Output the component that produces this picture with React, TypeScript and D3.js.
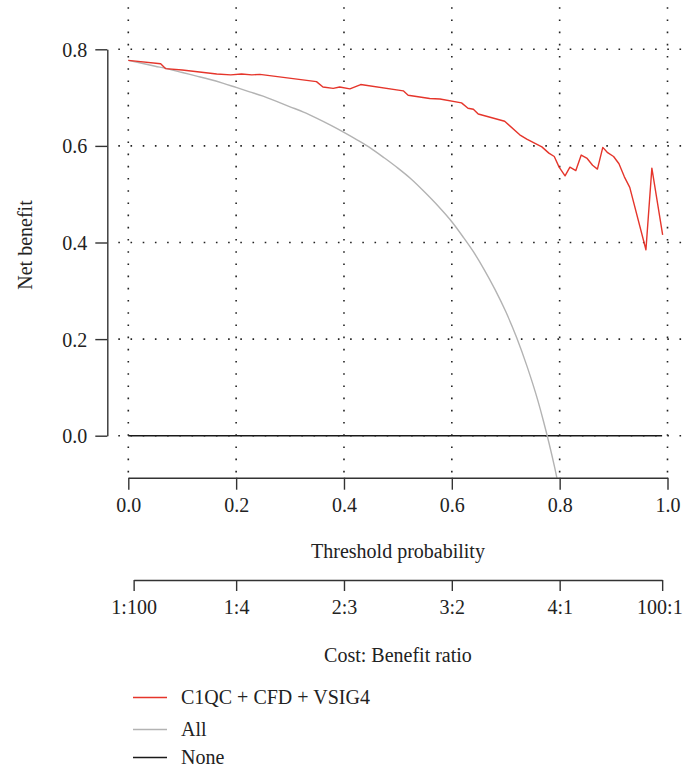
import React, { useEffect, useRef } from "react";
import * as d3 from "d3";

// Threshold probabilities and net benefit
const modelThreshold = [0, 0.06, 0.069, 0.1, 0.164, 0.19, 0.21, 0.229, 0.244, 0.349, 0.361, 0.38, 0.392, 0.411, 0.431, 0.51, 0.519, 0.559, 0.578, 0.618, 0.63, 0.64, 0.649, 0.698, 0.726, 0.739, 0.767, 0.78, 0.79, 0.799, 0.81, 0.819, 0.83, 0.84, 0.851, 0.861, 0.87, 0.88, 0.889, 0.9, 0.91, 0.92, 0.93, 0.96, 0.971, 0.991];
const modelBenefit = [0.777, 0.77, 0.76, 0.757, 0.749, 0.747, 0.749, 0.747, 0.748, 0.733, 0.722, 0.719, 0.722, 0.718, 0.727, 0.714, 0.705, 0.698, 0.697, 0.689, 0.678, 0.676, 0.666, 0.651, 0.623, 0.614, 0.598, 0.585, 0.578, 0.556, 0.538, 0.556, 0.549, 0.581, 0.574, 0.56, 0.552, 0.597, 0.586, 0.578, 0.563, 0.536, 0.514, 0.385, 0.554, 0.416];

const allThreshold = [0, 0.025, 0.05, 0.075, 0.1, 0.125, 0.15, 0.175, 0.2, 0.225, 0.25, 0.275, 0.3, 0.325, 0.35, 0.375, 0.4, 0.425, 0.45, 0.475, 0.5, 0.525, 0.55, 0.575, 0.6, 0.62, 0.64, 0.66, 0.68, 0.7, 0.72, 0.74, 0.76, 0.77, 0.78, 0.79, 0.8];
const allBenefit = [0.777, 0.771, 0.765, 0.759, 0.752, 0.745, 0.738, 0.73, 0.721, 0.712, 0.703, 0.692, 0.681, 0.67, 0.657, 0.643, 0.628, 0.612, 0.595, 0.575, 0.554, 0.531, 0.504, 0.475, 0.443, 0.413, 0.381, 0.344, 0.303, 0.257, 0.204, 0.142, 0.071, 0.03, -0.014, -0.062, -0.115];

const noneThreshold = [0, 0.99];
const noneBenefit = [0, 0];

const xTicks = [0, 0.2, 0.4, 0.6, 0.8, 1.0];
const yTicks = [0, 0.2, 0.4, 0.6, 0.8];
const ratioTicks = [1 / 101, 0.2, 0.4, 0.6, 0.8, 100 / 101];
const ratioLabels = ["1:100", "1:4", "2:3", "3:2", "4:1", "100:1"];

const legendNames = ["C1QC + CFD + VSIG4", "All", "None"];
const legendColors = ["#e5352b", "#b3b3b3", "#1a1a1a"];

const FONT = "'Liberation Serif', 'DejaVu Serif', serif";
const FS = 20;

export default function App() {
  const ref = useRef<SVGSVGElement>(null);

  useEffect(() => {
    const svg = d3.select(ref.current);
    svg.selectAll("*").remove();

    const x = d3.scaleLinear().domain([0, 1]).range([128.3, 667.5]);
    const y = d3.scaleLinear().domain([0, 0.8]).range([435.7, 49.3]);
    const plotL = 107.3, plotR = 690, plotT = 0, plotB = 477.7;

    svg.append("defs").append("clipPath").attr("id", "plotclip")
      .append("rect").attr("x", plotL).attr("y", plotT).attr("width", plotR - plotL).attr("height", plotB - plotT);

    // grid
    const grid = svg.append("g").attr("stroke", "#222").attr("stroke-width", 1.6).attr("stroke-dasharray", "1.6 10.6");
    xTicks.forEach((t) => {
      grid.append("line").attr("x1", x(t)).attr("x2", x(t)).attr("y1", 7.2).attr("y2", plotB);
    });
    yTicks.forEach((t) => {
      grid.append("line").attr("x1", 118.3).attr("x2", plotR).attr("y1", y(t)).attr("y2", y(t));
    });

    const g = svg.append("g").attr("clip-path", "url(#plotclip)");
    const line = d3.line<[number, number]>().x((d) => x(d[0])).y((d) => y(d[1]));

    const nonePts = noneThreshold.map((t, i) => [t, noneBenefit[i]] as [number, number]);
    g.append("path").attr("d", line(nonePts)!).attr("fill", "none").attr("stroke", legendColors[2]).attr("stroke-width", 1.4);

    const allPts = allThreshold.map((t, i) => [t, allBenefit[i]] as [number, number]);
    g.append("path").attr("d", line.curve(d3.curveMonotoneX)(allPts)!).attr("fill", "none").attr("stroke", legendColors[1]).attr("stroke-width", 1.4);
    line.curve(d3.curveLinear);

    const modelPts = modelThreshold.map((t, i) => [t, modelBenefit[i]] as [number, number]);
    g.append("path").attr("d", line(modelPts)!).attr("fill", "none").attr("stroke", legendColors[0]).attr("stroke-width", 1.4).attr("stroke-linejoin", "round");

    // axes
    const styleAxis = (sel: any) => {
      sel.selectAll("path,line").attr("stroke", "#333").attr("stroke-width", 1.4);
      sel.selectAll("text").attr("fill", "#222").attr("font-family", FONT).attr("font-size", FS);
    };

    const yAxis = svg.append("g").attr("transform", `translate(${plotL},0)`)
      .call(d3.axisLeft(y).tickValues(yTicks).tickFormat(d3.format(".1f")).tickSize(12).tickSizeOuter(0).tickPadding(8));
    yAxis.call(styleAxis);
    yAxis.selectAll("text").attr("dy", "0.35em");

    const xAxis = svg.append("g").attr("transform", `translate(0,${plotB})`)
      .call(d3.axisBottom(x).tickValues(xTicks).tickFormat(d3.format(".1f")).tickSize(12).tickSizeOuter(0).tickPadding(8));
    xAxis.call(styleAxis);

    const xr = d3.scaleLinear().domain([ratioTicks[0], ratioTicks[5]]).range([x(ratioTicks[0]), x(ratioTicks[5])]);
    const rAxis = svg.append("g").attr("transform", `translate(0,580)`)
      .call(d3.axisBottom(xr).tickValues(ratioTicks).tickFormat((d, i) => ratioLabels[i]).tickSize(11).tickSizeOuter(0).tickPadding(9));
    rAxis.call(styleAxis);
    rAxis.selectAll("text").filter((d, i) => i === ratioTicks.length - 1)
      .attr("text-anchor", "end").attr("x", 20);

    svg.append("text").attr("x", 398).attr("y", 551).attr("dy", "0.35em").attr("text-anchor", "middle")
      .attr("font-family", FONT).attr("font-size", FS).attr("fill", "#222").text("Threshold probability");
    svg.append("text").attr("x", 398).attr("y", 655).attr("dy", "0.35em").attr("text-anchor", "middle")
      .attr("font-family", FONT).attr("font-size", FS).attr("fill", "#222").text("Cost: Benefit ratio");
    svg.append("text").attr("transform", "translate(25,245) rotate(-90)").attr("dy", "0.35em").attr("text-anchor", "middle")
      .attr("font-family", FONT).attr("font-size", FS).attr("fill", "#222").text("Net benefit");

    // legend
    const ly = [697.5, 729.5, 757.5];
    legendNames.forEach((n, i) => {
      svg.append("line").attr("x1", 133).attr("x2", 167).attr("y1", ly[i]).attr("y2", ly[i])
        .attr("stroke", legendColors[i]).attr("stroke-width", 1.4);
      svg.append("text").attr("x", 181).attr("y", ly[i]).attr("dy", "0.3em")
        .attr("font-family", FONT).attr("font-size", FS).attr("fill", "#222").text(n);
    });
  }, []);

  return (
    <svg ref={ref} width={683} height={769}
      style={{ position: "absolute", left: 0, top: 0, background: "#fff" }} />
  );
}
